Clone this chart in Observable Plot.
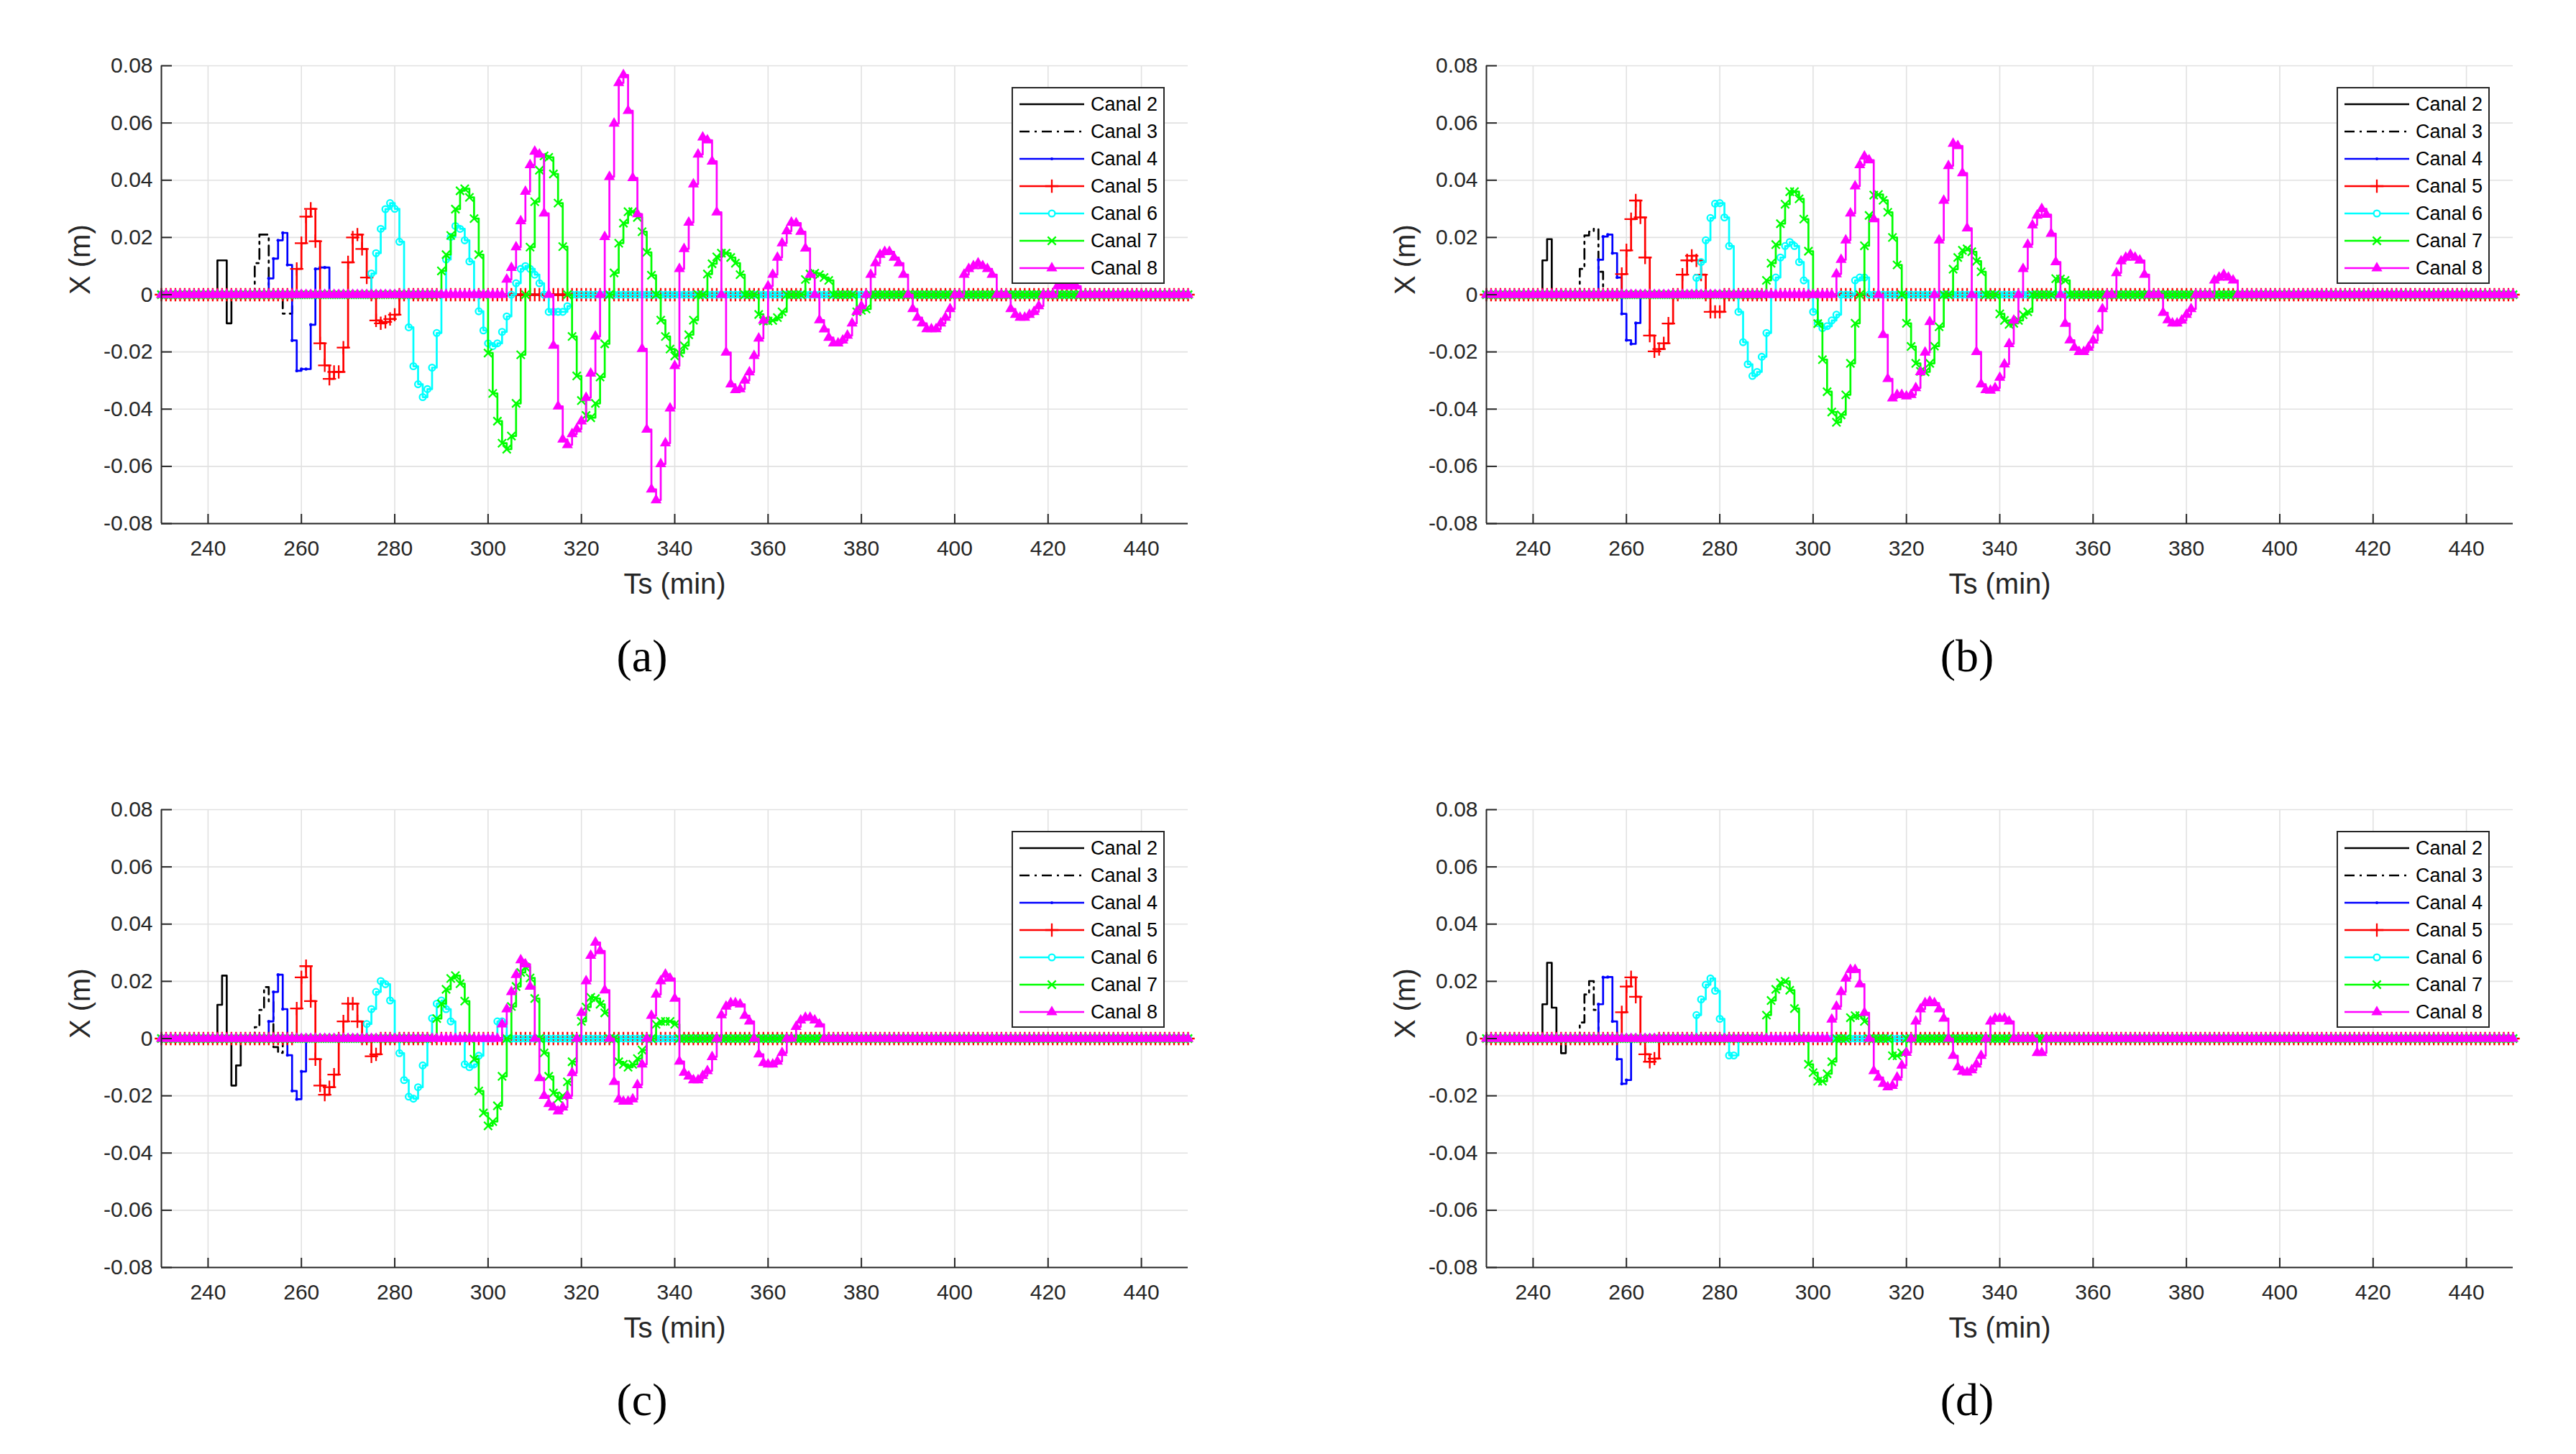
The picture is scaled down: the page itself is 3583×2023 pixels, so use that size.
<!DOCTYPE html>
<html><head><meta charset="utf-8">
<script src="https://cdn.jsdelivr.net/npm/d3@7"></script>
<script src="https://cdn.jsdelivr.net/npm/@observablehq/plot@0.6"></script>
<style>
html,body{margin:0;padding:0;background:#fff;}
body{width:3583px;height:2023px;position:relative;overflow:hidden;font-family:"Liberation Sans",Arial,sans-serif;}
.panel{position:absolute;}
.legend{position:absolute;}
.caption{position:absolute;font-family:"Liberation Serif","DejaVu Serif",serif;font-size:64px;color:#000;line-height:1;transform:translate(-50%,-100%);white-space:nowrap;}
</style></head><body>
<script>
// ---------- axes / categories ----------
const xDomain = [230, 450];
const yDomain = [-0.08, 0.08];
const xTicks = [240, 260, 280, 300, 320, 340, 360, 380, 400, 420, 440];
const yTicks = [-0.08, -0.06, -0.04, -0.02, 0, 0.02, 0.04, 0.06, 0.08];
const yTickLabels = ["-0.08", "-0.06", "-0.04", "-0.02", "0", "0.02", "0.04", "0.06", "0.08"];
const xLabel = "Ts (min)";
const yLabel = "X (m)";
const canals = ["Canal 2", "Canal 3", "Canal 4", "Canal 5", "Canal 6", "Canal 7", "Canal 8"];
const captions = ["(a)", "(b)", "(c)", "(d)"];

// ---------- panel (a): start minute of each canal + values (1-min steps) ----------
const startA = [242, 250, 253, 259, 275, 290, 304];
const a2 = [0.012, 0.012, -0.010];
const a3 = [0.011, 0.021, 0.021, 0, 0, 0, -0.0066, -0.0066];
const a4 = [0.0057, 0.0126, 0.019, 0.0216, 0.0104, -0.016, -0.0266, -0.026, -0.026, -0.0105, 0.009, 0.0095, 0.0095];
const a5 = [0.009, 0.018, 0.0273, 0.030, 0.0187, -0.017, -0.0247, -0.0294, -0.027, -0.027, -0.0185, 0.0113, 0.020, 0.021, 0.016, 0.006, 0, -0.009, -0.010, -0.0095, -0.0085, -0.007];
const a6 = [0.0074, 0.0145, 0.023, 0.0299, 0.032, 0.030, 0.0185, 0, -0.0114, -0.025, -0.0313, -0.0358, -0.033, -0.0255, -0.0134, 0, 0.0123, 0.0202, 0.024, 0.023, 0.019, 0.0116, 0, -0.0058, -0.0125, -0.017, -0.018, -0.017, -0.013, -0.0076, 0, 0.004, 0.009, 0.010, 0.009, 0.007, 0.004, 0, -0.006, -0.006, -0.006, -0.006, -0.004];
const a7 = [0.0083, 0.014, 0.0207, 0.0299, 0.0363, 0.037, 0.034, 0.0266, 0.014, 0,
  -0.0204, -0.0345, -0.0442, -0.0519, -0.054, -0.0494, -0.038, -0.021, 0,
  0.0166, 0.0325, 0.0435, 0.0485, 0.048, 0.0422, 0.032, 0.0168, 0,
  -0.0146, -0.0284, -0.037, -0.0422, -0.043, -0.038, -0.0288, -0.0172, 0,
  0.0076, 0.018, 0.025, 0.029, 0.029, 0.027, 0.022, 0.0148, 0.0068, 0,
  -0.0089, -0.0146, -0.019, -0.0214, -0.0204, -0.0178, -0.014, -0.0089, 0, 0,
  0.0072, 0.0108, 0.0132, 0.0145, 0.0145, 0.013, 0.011, 0.007, 0, 0, 0,
  -0.0069, -0.0092, -0.0092, -0.009, -0.008, -0.006, 0, 0, 0, 0,
  0.0053, 0.0072, 0.0075, 0.007, 0.006, 0.005, 0, 0, 0, 0, 0,
  -0.006, -0.0055, -0.005];
const a8 = [0.0053, 0.0094, 0.0166, 0.0257, 0.036, 0.0453, 0.050, 0.049, 0.0284, 0,
  -0.0178, -0.039, -0.0506, -0.0525, -0.0487, -0.047, -0.0442, -0.036, -0.0275, -0.0146, 0,
  0.0202, 0.0412, 0.0598, 0.074, 0.0768, 0.0643, 0.0408, 0.0282,
  -0.0189, -0.0471, -0.068, -0.0718, -0.0592, -0.0519, -0.0397, -0.0249,
  0.009, 0.016, 0.0252, 0.0386, 0.049, 0.055, 0.054, 0.0466, 0.0288, 0,
  -0.0202, -0.0313, -0.0333, -0.033, -0.030, -0.0271, -0.0214, -0.0153, -0.009,
  0.003, 0.007, 0.013, 0.018, 0.0222, 0.0252, 0.025, 0.022, 0.0162, 0.007, 0,
  -0.0089, -0.0121, -0.015, -0.017, -0.017, -0.016, -0.0143, -0.010, -0.006, -0.004, 0,
  0.007, 0.011, 0.014, 0.015, 0.015, 0.013, 0.011, 0.007, 0,
  -0.005, -0.008, -0.010, -0.012, -0.012, -0.012, -0.010, -0.008, -0.005, 0, 0,
  0.007, 0.009, 0.010, 0.011, 0.010, 0.009, 0.007, 0, 0, 0,
  -0.005, -0.007, -0.008, -0.008, -0.007, -0.006, -0.004, 0, 0, 0,
  0.003, 0.003, 0.003, 0.003, 0.003];

// ---------- panel (b) ----------
const startB = [242, 250, 254, 259, 275, 290, 305];
const b2 = [0.012, 0.0194];
const b3 = [0.009, 0.0207, 0.022, 0.023, 0.008];
const b4 = [0.0122, 0.0203, 0.021, 0.0145, 0.006, -0.0067, -0.0159, -0.0172, -0.0099];
const b5 = [0.0072, 0.0155, 0.0264, 0.0329, 0.027, 0.013, -0.0143, -0.0198, -0.019, -0.017, -0.0101, 0, 0, 0.007, 0.012, 0.0136, 0.012, 0.007, 0, -0.006, -0.006, -0.006];
const b6 = [0.0059, 0.0114, 0.019, 0.0268, 0.0318, 0.032, 0.027, 0.017, 0, -0.006, -0.0166, -0.0243, -0.0284, -0.027, -0.0217, -0.0134, 0, 0.006, 0.013, 0.017, 0.0184, 0.017, 0.0114, 0.005, 0, -0.006, -0.0099, -0.0117, -0.011, -0.009, -0.007, 0, 0, 0, 0.005, 0.006, 0.006];
const b7 = [0.005, 0.011, 0.0175, 0.0248, 0.0316, 0.036, 0.036, 0.0335, 0.0264, 0.0152,
  0, -0.0101, -0.0227, -0.0339, -0.041, -0.0446, -0.042, -0.035, -0.024, -0.010,
  0, 0.0171, 0.0277, 0.0348, 0.035, 0.033, 0.0288, 0.020, 0.0104,
  0, -0.010, -0.0181, -0.024, -0.0268, -0.027, -0.024, -0.018, -0.0112,
  0, 0, 0.0089, 0.013, 0.0155, 0.016, 0.015, 0.0117, 0.008,
  0, 0, 0, -0.0067, -0.009, -0.0104, -0.010, -0.009, -0.007, -0.006,
  0, 0, 0, 0, 0, 0.0056, 0.0055, 0.005];
const b8 = [0.0072, 0.0122, 0.019, 0.0284, 0.0379, 0.0453, 0.0483, 0.047, 0.0264,
  0, -0.014, -0.0294, -0.0362, -0.035, -0.035, -0.0355, -0.035, -0.0326, -0.027, -0.0202, -0.0095,
  0, 0.019, 0.0329, 0.045, 0.0528, 0.052, 0.0425, 0.0232,
  0, -0.020, -0.0313, -0.0333, -0.0335, -0.0326, -0.029, -0.0243, -0.0172, -0.009,
  0, 0.009, 0.0175, 0.0243, 0.0277, 0.030, 0.028, 0.0213, 0.0114,
  0, -0.0101, -0.0159, -0.0185, -0.020, -0.020, -0.0185, -0.016, -0.0125, -0.005,
  0, 0, 0.0076, 0.0117, 0.013, 0.014, 0.013, 0.012, 0.007,
  0, 0, 0, -0.0063, -0.0089, -0.010, -0.010, -0.009, -0.007, -0.005,
  0, 0, 0, 0, 0.005, 0.006, 0.007, 0.006, 0.005];

// ---------- panel (c) ----------
const startC = [242, 250, 253, 259, 274, 289, 303];
const c2 = [0.0118, 0.022, 0, -0.0164, -0.0094];
const c3 = [0.004, 0.010, 0.018, 0.013, -0.003, -0.005];
const c4 = [0.006, 0.0163, 0.0223, 0.0103, -0.0058, -0.0183, -0.0212, -0.0115];
const c5 = [0.0105, 0.0214, 0.0253, 0.0131, -0.0072, -0.0164, -0.0196, -0.017, -0.0126, 0, 0.006, 0.0122, 0.0122, 0.006, 0, 0, -0.0062, -0.0055];
const c6 = [0.0051, 0.0103, 0.0163, 0.0201, 0.019, 0.0133, 0, -0.0051, -0.0145, -0.0203, -0.021, -0.017, -0.0094, 0, 0.0071, 0.0122, 0.0133, 0.0103, 0.006, 0, 0, -0.009, -0.010, -0.009, -0.006, 0, 0, 0, 0.006, 0.006];
const c7 = [0.007, 0.0122, 0.0172, 0.021, 0.022, 0.0192, 0.0131, 0,
  -0.0072, -0.0183, -0.026, -0.0305, -0.029, -0.0235, -0.0132, 0,
  0.0112, 0.0182, 0.0231, 0.025, 0.0212, 0.014, 0,
  -0.005, -0.0132, -0.019, -0.021, -0.020, -0.0151, -0.0081, 0,
  0.006, 0.011, 0.0144, 0.014, 0.012, 0.009, 0, 0,
  -0.0081, -0.009, -0.010, -0.009, -0.007, -0.004, 0, 0,
  0.005, 0.006, 0.006, 0.006, 0.005];
const c8 = [0.005, 0.0103, 0.0163, 0.0223, 0.0274, 0.026, 0.0182, 0,
  -0.0138, -0.020, -0.0228, -0.024, -0.0254, -0.024, -0.020, -0.012, 0,
  0.009, 0.0201, 0.029, 0.0336, 0.0306, 0.0169, 0,
  -0.0151, -0.0212, -0.022, -0.022, -0.0212, -0.0162, -0.009, 0,
  0.008, 0.0154, 0.0201, 0.0224, 0.021, 0.014,
  -0.008, -0.0119, -0.0132, -0.0145, -0.0145, -0.013, -0.0113, -0.0064, 0,
  0.0082, 0.0112, 0.0124, 0.0124, 0.012, 0.008, 0.006, 0,
  -0.0055, -0.0085, -0.009, -0.009, -0.008, -0.005, 0, 0,
  0.0041, 0.0064, 0.0073, 0.0073, 0.0064, 0.005];

// ---------- panel (d) ----------
const startD = [242, 250, 254, 259, 275, 290, 304];
const d2 = [0.012, 0.0265, 0.0108, 0, -0.0051];
const d3v = [0.0056, 0.0154, 0.0201, 0.010];
const d4 = [0.012, 0.0214, 0.0215, 0.006, -0.0072, -0.0158, -0.0145];
const d5 = [0.0092, 0.0182, 0.0214, 0.0146, 0, -0.0055, -0.0081, -0.007];
const d6 = [0.0082, 0.0137, 0.0188, 0.021, 0.0167, 0.0069, 0, -0.0059, -0.0059];
const d7 = [0.0082, 0.0133, 0.0172, 0.0195, 0.020, 0.0169, 0.0105, 0, 0,
  -0.009, -0.0119, -0.0149, -0.0149, -0.0123, -0.0081, 0, 0, 0,
  0.0073, 0.008, 0.008, 0.006, 0, 0, 0, 0, 0, -0.006, -0.006, -0.005];
const d8 = [0.0067, 0.0112, 0.0163, 0.021, 0.024, 0.024, 0.019, 0.009, 0,
  -0.0113, -0.0136, -0.0158, -0.017, -0.0165, -0.0136, -0.0094, -0.0049, 0,
  0.006, 0.0103, 0.0124, 0.013, 0.0124, 0.0103, 0.007, 0,
  -0.006, -0.010, -0.0115, -0.0118, -0.011, -0.009, -0.006, 0,
  0.006, 0.007, 0.007, 0.007, 0.006, 0, 0, 0, 0, 0, -0.005, -0.005];

// ---------- styles ----------
const canalColors = ["#000000", "#000000", "#0000ff", "#ff0000", "#00ffff", "#00ff00", "#ff00ff"];
const canalDash = [null, "14,7,3,7", null, null, null, null, null];
const canalMarker = [null, null, "point", "plus", "circle", "times", "triangle2"];
const markerR = {point: 2.2, plus: 6, circle: 4.4, times: 5.2, triangle2: 5.4};

const panels = [
  {left: 0, top: 0, starts: startA, vals: [a2, a3, a4, a5, a6, a7, a8]},
  {left: 1843, top: 0, starts: startB, vals: [b2, b3, b4, b5, b6, b7, b8]},
  {left: 0, top: 1035, starts: startC, vals: [c2, c3, c4, c5, c6, c7, c8]},
  {left: 1843, top: 1035, starts: startD, vals: [d2, d3v, d4, d5, d6, d7, d8]}
];

const ML = 224, MT = 91, FW = 1428, FH = 637, MR = 40, MB = 130;
const axisColor = "#262626";
const gridColor = "#e1e1e1";

function buildSeries(start, vals) {
  const out = [];
  for (let t = xDomain[0]; t <= xDomain[1]; t++) {
    const k = t - start;
    out.push({t, v: (k >= 0 && k < vals.length) ? vals[k] : 0});
  }
  return out;
}

function dotMark(data, i) {
  const m = canalMarker[i];
  if (!m) return null;
  const c = canalColors[i];
  if (m === "point") return Plot.dot(data, {x: "t", y: "v", r: markerR.point, fill: c, stroke: "none"});
  return Plot.dot(data, {x: "t", y: "v", symbol: m, r: markerR[m], fill: m === "triangle2" ? c : "none", stroke: c, strokeWidth: 2.3});
}

panels.forEach((p, pi) => {
  const marks = [
    Plot.gridX(xTicks, {stroke: gridColor, strokeOpacity: 1, strokeWidth: 1.6}),
    Plot.gridY(yTicks, {stroke: gridColor, strokeOpacity: 1, strokeWidth: 1.6})
  ];
  canals.forEach((name, i) => {
    const data = buildSeries(p.starts[i], p.vals[i]);
    marks.push(Plot.line(data, {x: "t", y: "v", curve: "step-after", stroke: canalColors[i], strokeWidth: 2.7, strokeDasharray: canalDash[i] || undefined}));
    const dm = dotMark(data, i);
    if (dm) marks.push(dm);
  });
  marks.push(
    Plot.ruleX([xDomain[0]], {stroke: axisColor, strokeWidth: 2}),
    Plot.ruleY([yDomain[0]], {stroke: axisColor, strokeWidth: 2}),
    Plot.axisX(xTicks, {tickSize: 0, tickPadding: 23, fontSize: 30, fill: axisColor, label: null}),
    Plot.axisX(xTicks, {tickSize: 13, dy: -13, text: null, label: null, stroke: axisColor, strokeWidth: 2}),
    Plot.axisY(yTicks, {tickSize: 0, tickPadding: 12, fontSize: 30, fill: axisColor, label: null,
      tickFormat: d => yTickLabels[yTicks.indexOf(d)]}),
    Plot.axisY(yTicks, {tickSize: 15, dx: 15, text: null, label: null, stroke: axisColor, strokeWidth: 2}),
    Plot.text([yLabel], {text: d => d, frameAnchor: "left", dx: -112, rotate: -90, fontSize: 40, fill: axisColor}),
    Plot.text([xLabel], {text: d => d, frameAnchor: "bottom", dy: 97, fontSize: 40, fill: axisColor})
  );
  const chart = Plot.plot({
    width: ML + FW + MR, height: MT + FH + MB,
    marginLeft: ML, marginTop: MT, marginRight: MR, marginBottom: MB,
    x: {domain: xDomain},
    y: {domain: yDomain},
    style: {fontFamily: "Liberation Sans, Arial, sans-serif", background: "transparent", overflow: "visible"},
    marks
  });
  const div = document.createElement("div");
  div.className = "panel";
  div.style.left = p.left + "px";
  div.style.top = p.top + "px";
  div.appendChild(chart);
  document.body.appendChild(div);

  // legend
  const LW = 213, LH = 274;
  const lg = d3.select(document.body).append("div").attr("class", "legend")
    .style("left", (p.left + 1407) + "px").style("top", (p.top + 121) + "px");
  const svg = lg.append("svg").attr("width", LW).attr("height", LH);
  svg.append("rect").attr("x", 1).attr("y", 1).attr("width", LW - 2).attr("height", LH - 2)
    .attr("fill", "#fff").attr("stroke", axisColor).attr("stroke-width", 2);
  canals.forEach((name, i) => {
    const y = 24 + 38 * i;
    const c = canalColors[i];
    svg.append("line").attr("x1", 11).attr("x2", 101).attr("y1", y).attr("y2", y)
      .attr("stroke", c).attr("stroke-width", 2.7).attr("stroke-dasharray", canalDash[i]);
    const m = canalMarker[i];
    if (m === "point") {
      svg.append("circle").attr("cx", 56).attr("cy", y).attr("r", 2).attr("fill", c);
    } else if (m) {
      const type = {plus: d3.symbolPlus, circle: d3.symbolCircle, times: d3.symbolTimes, triangle2: d3.symbolTriangle2}[m];
      const r = markerR[m];
      svg.append("path").attr("transform", `translate(56,${y})`)
        .attr("d", d3.symbol(type, Math.PI * r * r)())
        .attr("fill", m === "triangle2" ? c : "#fff").attr("stroke", c).attr("stroke-width", 2.3);
    }
    svg.append("text").attr("x", 110).attr("y", y).attr("dy", "0.35em")
      .attr("font-family", "Liberation Sans, Arial, sans-serif").attr("font-size", 27).attr("fill", "#000")
      .text(name);
  });

  // caption
  const cap = document.createElement("div");
  cap.className = "caption";
  cap.style.left = (p.left + 893) + "px";
  cap.style.top = (p.top + 945) + "px";
  cap.textContent = captions[pi];
  document.body.appendChild(cap);
});
</script>
</body></html>
